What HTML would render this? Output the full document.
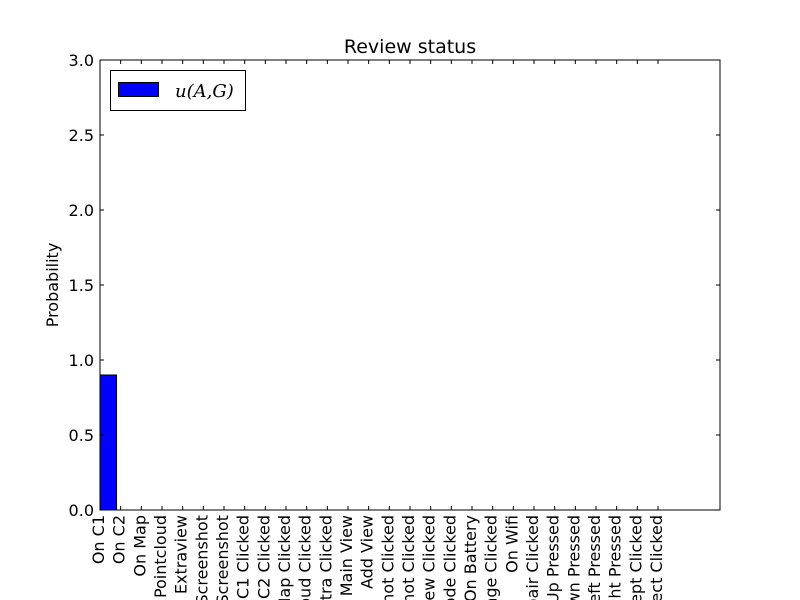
<!DOCTYPE html>
<html><head><meta charset="utf-8"><style>
html,body{margin:0;background:#fff;width:800px;height:600px;overflow:hidden;}
svg{display:block;font-family:"DejaVu Sans","Liberation Sans",sans-serif;overflow:hidden;}
</style></head><body>
<svg id="chart" width="800" height="600" viewBox="0 0 800 600"></svg>
<script>
const categories=["On C1","On C2","On Map","On Pointcloud","On Extraview","Take Screenshot","Save Screenshot","Cam C1 Clicked","Cam C2 Clicked","Map Clicked","Pointcloud Clicked","Extra Clicked","Main  View","Add View","Screenshot Clicked","Snapshot Clicked","Extraview Clicked","Mode Clicked","On Battery","Change Clicked","On Wifi","Repair Clicked","Up Pressed","Down Pressed","Left Pressed","Right Pressed","Accept Clicked","Reject Clicked"];
const values=[0.9,0,0,0,0,0,0,0,0,0,0,0,0,0,0,0,0,0,0,0,0,0,0,0,0,0,0,0];
const yTicks=[0,0.5,1,1.5,2,2.5,3];
const yTickLabels=["0.0","0.5","1.0","1.5","2.0","2.5","3.0"];
const NS="http://www.w3.org/2000/svg";
const svg=document.getElementById('chart');
const L=100,R=720,T=60,B=510,xMax=30,yMax=3;
const xs=v=>L+v*(R-L)/xMax, ys=v=>B-v*(B-T)/yMax;
function mk(t,a,p){const e=document.createElementNS(NS,t);for(const k in a)e.setAttribute(k,a[k]);(p||svg).appendChild(e);return e;}
values.forEach((v,i)=>{
 const r=mk('rect',{x:xs(i),y:ys(v),width:xs(i+0.8)-xs(i),height:B-ys(v),fill:'#0000ff',stroke:'#000','stroke-width':1});
 
 
});
const f=mk('rect',{x:L,y:T,width:R-L,height:B-T,fill:'none',stroke:'#000','stroke-width':1});


yTicks.forEach((v,i)=>{
 const y=ys(v);
 mk('line',{x1:L,x2:L+4,y1:y,y2:y,stroke:'#000'});
 mk('line',{x1:R,x2:R-4,y1:y,y2:y,stroke:'#000'});
 const t=mk('text',{x:L-6,y:y+6,'text-anchor':'end','font-size':16});
 t.textContent=yTickLabels[i];
 
 
});
categories.forEach((c,i)=>{
 const x=xs(i);
 mk('line',{x1:x,x2:x,y1:B,y2:B-4,stroke:'#000'});
 mk('line',{x1:x,x2:x,y1:T,y2:T+4,stroke:'#000'});
 const t=mk('text',{x:0,y:0,'text-anchor':'end','font-size':16,transform:`translate(${x+4},${B+5}) rotate(-90)`});
 t.textContent=c;
 
 
});
const title=mk('text',{x:410,y:53,'text-anchor':'middle','font-size':19});
title.textContent='Review status';


const yl=mk('text',{x:0,y:0,'text-anchor':'middle','font-size':16,transform:'translate(58,285) rotate(-90)'});
yl.textContent='Probability';


const lg=mk('g',{});


mk('rect',{x:110.5,y:70.5,width:135,height:40,fill:'#fff',stroke:'#000'},lg);
mk('rect',{x:118.5,y:82.5,width:40,height:14,fill:'#0000ff',stroke:'#000'},lg);
const lt=mk('text',{x:175,y:97,'font-size':18,'font-family':'"DejaVu Serif","Liberation Serif",serif','font-style':'italic'},lg);
lt.textContent='u(A,G)';


</script>
</body></html>
